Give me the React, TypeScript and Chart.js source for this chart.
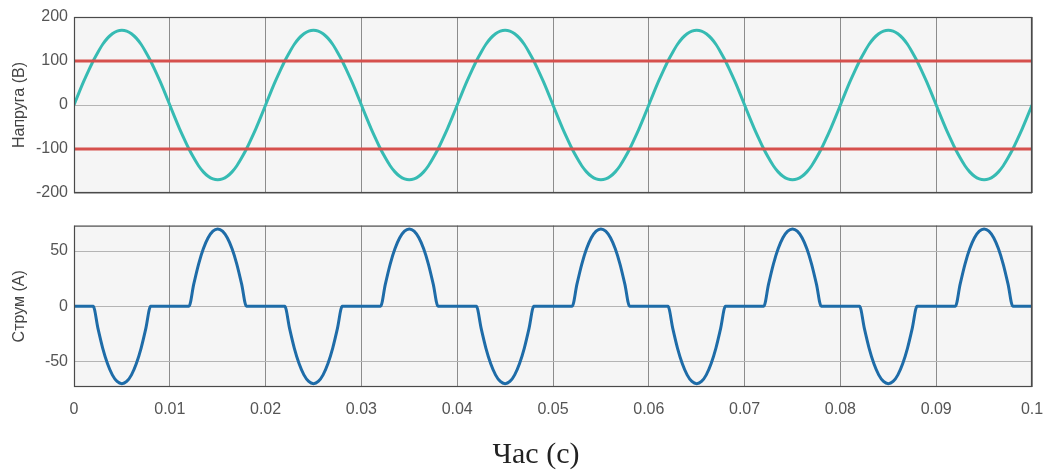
import React, { useEffect, useRef } from 'react';
import { Chart, registerables } from 'chart.js';

Chart.register(...registerables);

// Sample spacing of the readings (s)
const timeStep = 0.0005;

// Voltage readings (V), one per sample
const voltage = [
  0, 27, 53, 77, 100, 120, 138, 152, 162, 168, 170, 168, 162, 152, 138, 120, 100, 77, 53, 27,
  0, -27, -53, -77, -100, -120, -138, -152, -162, -168, -170, -168, -162, -152, -138, -120, -100, -77, -53, -27,
  0, 27, 53, 77, 100, 120, 138, 152, 162, 168, 170, 168, 162, 152, 138, 120, 100, 77, 53, 27,
  0, -27, -53, -77, -100, -120, -138, -152, -162, -168, -170, -168, -162, -152, -138, -120, -100, -77, -53, -27,
  0, 27, 53, 77, 100, 120, 138, 152, 162, 168, 170, 168, 162, 152, 138, 120, 100, 77, 53, 27,
  0, -27, -53, -77, -100, -120, -138, -152, -162, -168, -170, -168, -162, -152, -138, -120, -100, -77, -53, -27,
  0, 27, 53, 77, 100, 120, 138, 152, 162, 168, 170, 168, 162, 152, 138, 120, 100, 77, 53, 27,
  0, -27, -53, -77, -100, -120, -138, -152, -162, -168, -170, -168, -162, -152, -138, -120, -100, -77, -53, -27,
  0, 27, 53, 77, 100, 120, 138, 152, 162, 168, 170, 168, 162, 152, 138, 120, 100, 77, 53, 27,
  0, -27, -53, -77, -100, -120, -138, -152, -162, -168, -170, -168, -162, -152, -138, -120, -100, -77, -53, -27,
  0,
];

// Current readings (A), one per sample
const current = [
  0, 0, 0, 0, 0, -20, -38, -52, -62, -68, -70, -68, -62, -52, -38, -20, 0, 0, 0, 0,
  0, 0, 0, 0, 0, 20, 38, 52, 62, 68, 70, 68, 62, 52, 38, 20, 0, 0, 0, 0,
  0, 0, 0, 0, 0, -20, -38, -52, -62, -68, -70, -68, -62, -52, -38, -20, 0, 0, 0, 0,
  0, 0, 0, 0, 0, 20, 38, 52, 62, 68, 70, 68, 62, 52, 38, 20, 0, 0, 0, 0,
  0, 0, 0, 0, 0, -20, -38, -52, -62, -68, -70, -68, -62, -52, -38, -20, 0, 0, 0, 0,
  0, 0, 0, 0, 0, 20, 38, 52, 62, 68, 70, 68, 62, 52, 38, 20, 0, 0, 0, 0,
  0, 0, 0, 0, 0, -20, -38, -52, -62, -68, -70, -68, -62, -52, -38, -20, 0, 0, 0, 0,
  0, 0, 0, 0, 0, 20, 38, 52, 62, 68, 70, 68, 62, 52, 38, 20, 0, 0, 0, 0,
  0, 0, 0, 0, 0, -20, -38, -52, -62, -68, -70, -68, -62, -52, -38, -20, 0, 0, 0, 0,
  0, 0, 0, 0, 0, 20, 38, 52, 62, 68, 70, 68, 62, 52, 38, 20, 0, 0, 0, 0,
  0,
];

// Threshold lines on the voltage plot (V)
const thresholds = [100, -100];

// Axes
const xTicks = [0, 0.01, 0.02, 0.03, 0.04, 0.05, 0.06, 0.07, 0.08, 0.09, 0.1];
const xTickLabels = ['0', '0.01', '0.02', '0.03', '0.04', '0.05', '0.06', '0.07', '0.08', '0.09', '0.1'];
const vTicks = [-200, -100, 0, 100, 200];
const vTickLabels = ['-200', '-100', '0', '100', '200'];
const iTicks = [-50, 0, 50];
const iTickLabels = ['-50', '0', '50'];
const vRange = [-200, 200];
const iRange = [-73, 73];

const times = voltage.map((_, i) => +(i * timeStep).toFixed(4));

const FONT = 'Arial, "Liberation Sans", sans-serif';

const framePlugin = {
  id: 'frame',
  beforeDraw(chart: any) {
    const { ctx, chartArea: a } = chart;
    ctx.save();
    ctx.fillStyle = '#f5f5f5';
    ctx.fillRect(a.left, a.top, a.right - a.left, a.bottom - a.top);
    ctx.restore();
  },
  afterDraw(chart: any) {
    const { ctx, chartArea: a } = chart;
    ctx.save();
    ctx.strokeStyle = '#4a4a4a';
    ctx.lineWidth = 1.2;
    ctx.strokeRect(a.left + 0.5, a.top + 0.5, a.right - a.left - 1, a.bottom - a.top - 1);
    ctx.restore();
  },
};

function xScale(showLabels: boolean) {
  return {
    type: 'linear',
    min: xTicks[0],
    max: xTicks[xTicks.length - 1],
    afterBuildTicks: (axis: any) => {
      axis.ticks = xTicks.map((v) => ({ value: v }));
    },
    afterFit: (axis: any) => {
      axis.height = showLabels ? 86 : 0;
      axis.paddingLeft = 0;
      axis.paddingRight = 0;
    },
    ticks: {
      display: showLabels,
      autoSkip: false,
      maxRotation: 0,
      padding: 13,
      color: '#555',
      font: { family: FONT, size: 16 },
      callback: (_v: any, i: number) => xTickLabels[i],
    },
    grid: { color: '#8c8c8c', lineWidth: 1, drawTicks: false },
    border: { display: false },
  };
}

function yScale(range: number[], ticks: number[], labels: string[], title: string) {
  return {
    type: 'linear',
    min: range[0],
    max: range[1],
    afterBuildTicks: (axis: any) => {
      axis.ticks = ticks.map((v) => ({ value: v }));
    },
    afterFit: (axis: any) => {
      axis.width = 74;
    },
    ticks: {
      padding: 6,
      color: '#555',
      font: { family: FONT, size: 16 },
      callback: (_v: any, i: number) => labels[i],
    },
    grid: { color: '#b4b4b4', lineWidth: 1, drawTicks: false },
    border: { display: false },
    title: {
      display: true,
      text: title,
      color: '#444',
      font: { family: FONT, size: 16 },
      padding: { top: 10, bottom: 0 },
    },
  };
}

export default function App() {
  const topRef = useRef<HTMLCanvasElement>(null);
  const botRef = useRef<HTMLCanvasElement>(null);

  useEffect(() => {
    const top = new Chart(topRef.current as HTMLCanvasElement, {
      type: 'line',
      data: {
        datasets: [
          ...thresholds.map((th) => ({
            data: [
              { x: xTicks[0], y: th },
              { x: xTicks[xTicks.length - 1], y: th },
            ],
            borderColor: '#d6504d',
            borderWidth: 3,
            pointRadius: 0,
            order: 0,
          })),
          {
            data: times.map((t, i) => ({ x: t, y: voltage[i] })),
            borderColor: '#36bbb3',
            borderWidth: 3,
            pointRadius: 0,
            cubicInterpolationMode: 'monotone',
            order: 1,
          },
        ],
      },
      options: {
        responsive: false,
        animation: false,
        events: [],
        layout: { padding: { left: 0, right: 18, top: 17, bottom: 17 } },
        plugins: { legend: { display: false }, tooltip: { enabled: false } },
        scales: {
          x: xScale(false),
          y: yScale(vRange, vTicks, vTickLabels, 'Напруга (В)'),
        },
      } as any,
      plugins: [framePlugin],
    } as any);

    const bot = new Chart(botRef.current as HTMLCanvasElement, {
      type: 'line',
      data: {
        datasets: [
          {
            data: times.map((t, i) => ({ x: t, y: current[i] })),
            borderColor: '#1e6ca8',
            borderWidth: 3,
            pointRadius: 0,
            cubicInterpolationMode: 'monotone',
          },
        ],
      },
      options: {
        responsive: false,
        animation: false,
        events: [],
        layout: { padding: { left: 0, right: 18, top: 15, bottom: 0 } },
        plugins: { legend: { display: false }, tooltip: { enabled: false } },
        scales: {
          x: xScale(true),
          y: yScale(iRange, iTicks, iTickLabels, 'Струм (А)'),
        },
      } as any,
      plugins: [framePlugin],
    } as any);

    return () => {
      top.destroy();
      bot.destroy();
    };
  }, []);

  return (
    <div style={{ position: 'absolute', left: 0, top: 0, width: 1050, height: 473, background: '#fff' }}>
      <canvas
        ref={topRef}
        width={1050}
        height={210}
        style={{ position: 'absolute', left: 0, top: 0, width: 1050, height: 210 }}
      />
      <canvas
        ref={botRef}
        width={1050}
        height={263}
        style={{ position: 'absolute', left: 0, top: 210, width: 1050, height: 263 }}
      />
      <div
        style={{
          position: 'absolute',
          left: 386,
          top: 436,
          width: 300,
          textAlign: 'center',
          fontFamily: '"Liberation Serif", "Times New Roman", serif',
          fontSize: 30,
          lineHeight: '34px',
          color: '#222',
        }}
      >
        Час (с)
      </div>
    </div>
  );
}
